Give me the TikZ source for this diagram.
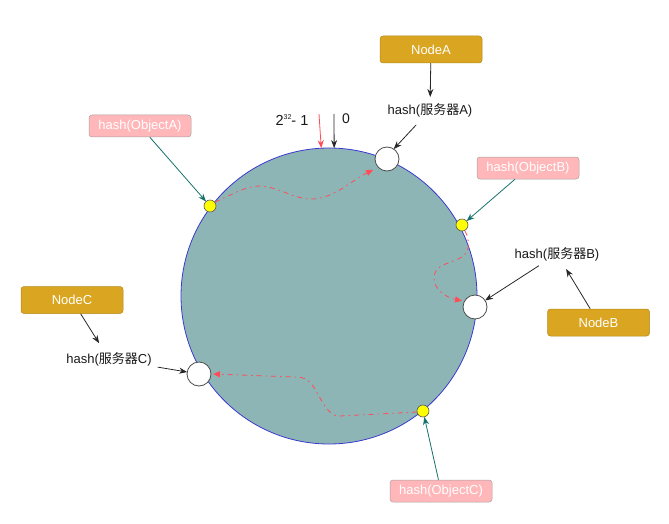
\documentclass[tikz,border=0pt]{standalone}
\usepackage{fontspec}
\setmainfont{Liberation Sans}
\newfontfamily\cjk{Noto Sans CJK SC}
\usetikzlibrary{arrows.meta}
\definecolor{ringfill}{HTML}{8EB5B6}
\definecolor{ringline}{HTML}{3A3ACF}
\definecolor{goldfill}{HTML}{DAA520}
\definecolor{goldline}{HTML}{B48A1C}
\definecolor{pinkfill}{HTML}{FFB7BA}
\definecolor{pinkline}{HTML}{A8A0A0}
\definecolor{tealarr}{HTML}{17716B}
\definecolor{redarr}{HTML}{FF4D57}
\definecolor{dotfill}{HTML}{FFFF00}
\tikzset{
  ringst/.style={circle,draw=ringline,fill=ringfill,line width=0.8pt,minimum size=296pt,inner sep=0pt,outer sep=0pt},
  server/.style={circle,draw=black!70,fill=white,line width=0.8pt,minimum size=24pt,inner sep=0pt,outer sep=0pt},
  ydot/.style={circle,draw=black!65,fill=dotfill,line width=0.6pt,minimum size=12pt,inner sep=0pt,outer sep=0pt},
  goldbox/.style={rectangle,rounded corners=3pt,draw=goldline,fill=goldfill,line width=0.5pt,minimum width=102pt,minimum height=27pt,text=white,inner sep=0pt},
  pinkbox/.style={rectangle,rounded corners=3pt,draw=pinkline,fill=pinkfill,line width=0.5pt,minimum width=102pt,minimum height=22pt,text=white,inner sep=0pt},
  txt/.style={inner sep=2pt,text=black!90},
  blkarr/.style={draw=black!85,line width=0.8pt,-{Stealth[length=8pt,width=6pt]}},
  tealline/.style={draw=tealarr,line width=0.8pt,-{Stealth[length=8pt,width=6pt]}},
  redpath/.style={draw=redarr,line width=0.8pt,dash pattern=on 5pt off 4pt on 1.5pt off 4pt,-{Triangle[length=7pt,width=6pt]}},
}
\begin{document}
\begin{tikzpicture}[x=1pt,y=-1pt,font=\fontsize{13}{15}\selectfont]
\useasboundingbox (0,0) rectangle (669,524);
% ring
\node[ringst] (ring) at (329,296) {};
% red dash-dot paths
\draw[redpath,shorten >=2pt] (215,202) .. controls (232,195) and (245,186) .. (260,186)
  .. controls (280,187) and (295,200) .. (313,199)
  .. controls (335,198) and (352,180) .. (375,169);
\draw[redpath,shorten >=1pt] (465,231) .. controls (470,240) and (470,252) .. (462,257)
  .. controls (450,264) and (435,264) .. (434,277)
  .. controls (433,290) and (448,298) .. (463,301);
\draw[redpath] (417,412) -- (340,416) .. controls (328,417) and (322,400) .. (313,386)
  .. controls (308,379) and (304,377) .. (295,377) -- (213,374);
% servers and object dots
\node[server] (sA) at (387,159) {};
\node[server] (sB) at (475,307) {};
\node[server] (sC) at (199,374) {};
\node[ydot] (dA) at (210,206) {};
\node[ydot] (dB) at (462,225) {};
\node[ydot] (dC) at (423,411) {};
% boxes
\node[goldbox] (nA) at (431,49.5) {NodeA};
\node[goldbox] (nB) at (598.5,322.5) {NodeB};
\node[goldbox] (nC) at (72,300) {NodeC};
\node[pinkbox] (oA) at (140,126) {hash(ObjectA)};
\node[pinkbox] (oB) at (528,168) {hash(ObjectB)};
\node[pinkbox] (oC) at (441,491) {hash(ObjectC)};
% texts
\node[txt] (hA) at (430,110) {hash({\cjk 服务器}A)};
\node[txt] (hB) at (557,254) {hash({\cjk 服务器}B)};
\node[txt] (hC) at (109,359) {hash({\cjk 服务器}C)};
\node[txt,font=\fontsize{14.5}{16}\selectfont] (top) at (292,120) {2\raisebox{6pt}{\fontsize{7}{8}\selectfont 32}- 1};
\node[txt,font=\fontsize{14}{16}\selectfont] (zero) at (346,119) {0};
% marker arrows on top of ring
\coordinate (m1) at (319,114);
\coordinate (m2) at (334,114);
\draw[blkarr,draw=redarr] (m1) -- (ring.93.9);
\draw[blkarr] (m2) -- (ring.88.1);
% black arrows
\draw[blkarr,shorten >=4pt] (nA) -- (hA);
\draw[blkarr,shorten <=8pt] (hA) -- (sA.56);
\draw[blkarr,shorten <=5pt] (hB) -- (sB);
\draw[blkarr,shorten >=7pt] (nB) -- (hB);
\draw[blkarr,shorten >=8pt] (nC) -- (hC);
\draw[blkarr,shorten <=4pt] (hC) -- (sC);
% teal arrows
\draw[tealline] (oA) -- (dA);
\draw[tealline] (oB) -- (dB);
\draw[tealline] (oC) -- (dC);
\end{tikzpicture}
\end{document}
